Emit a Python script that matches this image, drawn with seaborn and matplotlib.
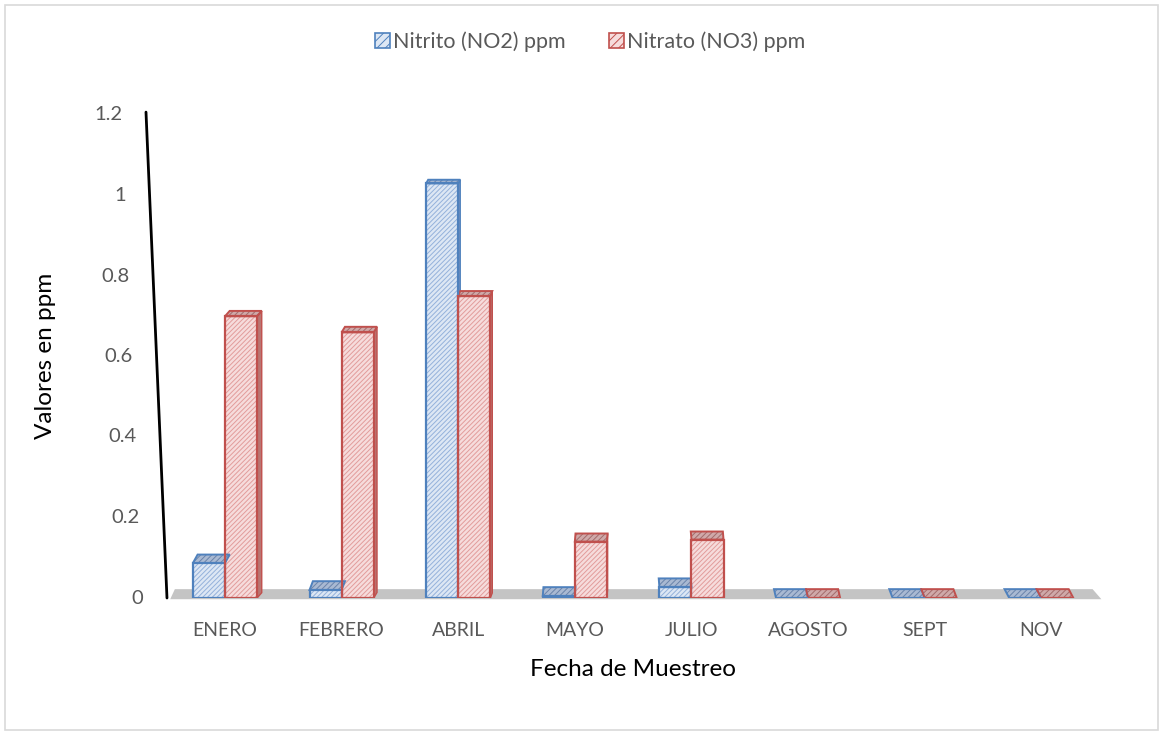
import numpy as np
import pandas as pd
import matplotlib
matplotlib.use("Agg")
import matplotlib.pyplot as plt
from matplotlib.patches import Rectangle, Polygon, Patch
import seaborn as sns

# Monthly sampling results (ppm)
meses = ["ENERO", "FEBRERO", "ABRIL", "MAYO", "JULIO", "AGOSTO", "SEPT", "NOV"]
nitrito = [0.087, 0.02, 1.03, 0.005, 0.027, 0.0, 0.0, 0.0]
nitrato = [0.70, 0.66, 0.75, 0.14, 0.145, 0.0, 0.0, 0.0]
series = ["Nitrito (NO2) ppm", "Nitrato (NO3) ppm"]
yticks = [0, 0.2, 0.4, 0.6, 0.8, 1.0, 1.2]
ytick_labels = ["0", "0.2", "0.4", "0.6", "0.8", "1", "1.2"]

df = pd.DataFrame({
    "Mes": meses * 2,
    "Serie": [series[0]] * len(meses) + [series[1]] * len(meses),
    "Valor": nitrito + nitrato,
})

sns.set_theme(style="white")
FONT = ["Lato", "DejaVu Sans"]
plt.rcParams["font.family"] = FONT
plt.rcParams["hatch.linewidth"] = 0.7
TXT = "#595959"

# face, hatch, outline, top face, top hatch, side face
styles = {
    series[0]: dict(face="#dde7f4", hatch="#94b1db", edge="#4f81bd",
                    top="#a9b9d2", top_h="#6a83aa", side="#7d95bd"),
    series[1]: dict(face="#f6dcdc", hatch="#e29c9b", edge="#c0504d",
                    top="#cfa9a9", top_h="#a36b6b", side="#b97572"),
}

fig = plt.figure(figsize=(11.63, 7.31), dpi=100)
ax = fig.add_axes([166.7 / 1163, 133 / 731, 932.9 / 1163, 483 / 731])

sns.barplot(data=df, x="Mes", y="Valor", hue="Serie", order=meses,
            hue_order=series, width=0.55, dodge=True, ax=ax, legend=False,
            errorbar=None)

ax.set_xlim(-0.5, 7.5)
ax.set_ylim(0, 1.2)

# grey floor under the columns
floor = Polygon([(-0.47, -0.003), (7.515, -0.003), (7.44, 0.022), (-0.43, 0.022)],
                closed=True, facecolor="#c4c4c4", edgecolor="none", zorder=0.5,
                clip_on=False)
ax.add_patch(floor)

bars = [p for p in ax.patches if isinstance(p, Rectangle) and p is not floor]
n = len(meses)
for k, bar in enumerate(bars[:2 * n]):
    s = series[k // n]
    st = styles[s]
    i = k % n
    x0, w, h = bar.get_x(), bar.get_width(), bar.get_height()
    x1 = x0 + w
    bar.set_facecolor(st["face"])
    bar.set_edgecolor(st["hatch"])
    bar.set_hatch("///////")
    bar.set_linewidth(0)
    bar.set_zorder(2)
    # depth of the column top shrinks with its height
    dy = 0.022 - 0.0125 * h
    dx = 0.04 * (3.5 - i) / 3.5
    if dx > 0 and h > 0:
        side = Polygon([(x1, 0), (x1, h), (x1 + dx, h + dy), (x1 + dx, dy)],
                       closed=True, facecolor=st["side"], edgecolor=st["edge"],
                       linewidth=1.0, zorder=1.8)
        ax.add_patch(side)
    top = Polygon([(x0, h), (x1, h), (x1 + dx, h + dy), (x0 + dx, h + dy)],
                  closed=True, facecolor=st["top"], edgecolor=st["top_h"],
                  hatch="//////", linewidth=0, zorder=2.2)
    ax.add_patch(top)
    ax.add_patch(Polygon([(x0, h), (x1, h), (x1 + dx, h + dy), (x0 + dx, h + dy)],
                         closed=True, fill=False, edgecolor=st["edge"],
                         linewidth=1.4, zorder=2.4))
    ax.add_patch(Rectangle((x0, 0), w, h, fill=False, edgecolor=st["edge"],
                           linewidth=1.6, zorder=2.5))

sns.despine(ax=ax, left=True, bottom=True)
ax.set_yticks(yticks)
ax.set_yticklabels([])
ax.tick_params(axis="y", length=0)
ax.tick_params(axis="x", length=0, pad=17, labelsize=14, labelcolor=TXT)
for lab in ax.get_xticklabels():
    lab.set_fontfamily(FONT)

# slanted value axis
ax.plot([-0.0222, 0.0003], [1.006, 0.0], transform=ax.transAxes, color="black",
        linewidth=2.0, clip_on=False, zorder=3)
for v, t in zip(yticks, ytick_labels):
    xpx = -21 * v / 1.2 - 23.5
    ax.text(xpx / 932.9, v, t, transform=ax.get_yaxis_transform(),
            ha="right", va="center", fontsize=14.5, color=TXT)

ax.set_xlabel("Fecha de Muestreo", fontsize=17.5, color="#000000", labelpad=15)
ax.set_ylabel("")
fig.text(46 / 1163, 1 - 356 / 731, "Valores en ppm", rotation=90, ha="center",
         va="center", fontsize=17.5, color="#000000")

handles = [Patch(facecolor=styles[s]["face"], edgecolor=styles[s]["edge"],
                 hatch="////", linewidth=1.2) for s in series]
fig.legend(handles, series, loc="center", bbox_to_anchor=(590 / 1163, 1 - 42 / 731),
           ncol=2, frameon=False, fontsize=15.5, labelcolor=TXT, handlelength=0.7,
           handleheight=0.7, handletextpad=0.15, columnspacing=2.0)

fig.add_artist(Rectangle((5 / 1163, 1 / 731), 1153 / 1163, 725 / 731,
                         transform=fig.transFigure, fill=False,
                         edgecolor="#d9d9d9", linewidth=1.2))

fig.savefig("out.png", dpi=100, facecolor="white")
